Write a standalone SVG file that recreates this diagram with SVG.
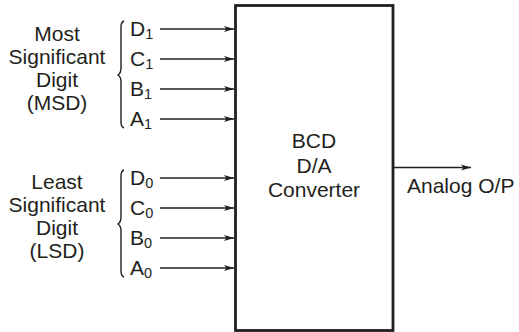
<svg xmlns="http://www.w3.org/2000/svg" width="519" height="332" viewBox="0 0 519 332">
<defs>
<style>
text{font-family:"Liberation Sans",Arial,sans-serif;font-size:21px;fill:#231f20}
.c{text-anchor:middle}
.s{font-size:14.5px}
.w{stroke:#231f20;stroke-width:1.3;fill:none}
.b{stroke:#231f20;stroke-width:1.4;fill:none}
</style>
<marker id="ah" markerUnits="userSpaceOnUse" markerWidth="12" markerHeight="10" refX="10" refY="4" orient="auto">
<path d="M0,1 L10,4 L0,7 L2.5,4 Z" fill="#231f20"/>
</marker>
</defs>
<rect width="519" height="332" fill="#fff"/>
<g id="msd-label">
<text class="c" x="57" y="41">Most</text>
<text class="c" x="57" y="64">Significant</text>
<text class="c" x="57" y="87">Digit</text>
<text class="c" x="57" y="110">(MSD)</text>
<path class="b" d="M124,21 Q121,22 121,27 L121,68 Q121,73 118,75 Q121,77 121,82 L121,122 Q121,127 124,128"/>
</g>
<g id="lsd-label">
<text class="c" x="57" y="189">Least</text>
<text class="c" x="57" y="212">Significant</text>
<text class="c" x="57" y="235">Digit</text>
<text class="c" x="57" y="258">(LSD)</text>
<path class="b" d="M124,170 Q121,171 121,176 L121,217 Q121,222 118,224 Q121,226 121,231 L121,271 Q121,276 124,277"/>
</g>
<g id="inputs">
<text x="130" y="36">D<tspan class="s" dy="3">1</tspan></text>
<text x="130" y="66">C<tspan class="s" dy="3">1</tspan></text>
<text x="130" y="96">B<tspan class="s" dy="3">1</tspan></text>
<text x="130" y="126">A<tspan class="s" dy="3">1</tspan></text>
<text x="130" y="185">D<tspan class="s" dy="3">0</tspan></text>
<text x="130" y="215">C<tspan class="s" dy="3">0</tspan></text>
<text x="130" y="245">B<tspan class="s" dy="3">0</tspan></text>
<text x="130" y="275">A<tspan class="s" dy="3">0</tspan></text>
</g>
<g id="converter">
<rect x="235.5" y="5.5" width="157.5" height="325" fill="none" stroke="#231f20" stroke-width="2.8"/>
<text class="c" x="314" y="148">BCD</text>
<text class="c" x="314" y="173">D/A</text>
<text class="c" x="314" y="197">Converter</text>
</g>
<g id="output">
<text x="407" y="193">Analog O/P</text>
</g>
<g id="connectors">
<line class="w" x1="160" y1="29" x2="234" y2="29" marker-end="url(#ah)"/>
<line class="w" x1="160" y1="59" x2="234" y2="59" marker-end="url(#ah)"/>
<line class="w" x1="160" y1="89" x2="234" y2="89" marker-end="url(#ah)"/>
<line class="w" x1="160" y1="119" x2="234" y2="119" marker-end="url(#ah)"/>
<line class="w" x1="160" y1="178" x2="234" y2="178" marker-end="url(#ah)"/>
<line class="w" x1="160" y1="208" x2="234" y2="208" marker-end="url(#ah)"/>
<line class="w" x1="160" y1="238" x2="234" y2="238" marker-end="url(#ah)"/>
<line class="w" x1="160" y1="268" x2="234" y2="268" marker-end="url(#ah)"/>
<line class="w" x1="394" y1="167.5" x2="471" y2="167.5" marker-end="url(#ah)"/>
</g>
</svg>
